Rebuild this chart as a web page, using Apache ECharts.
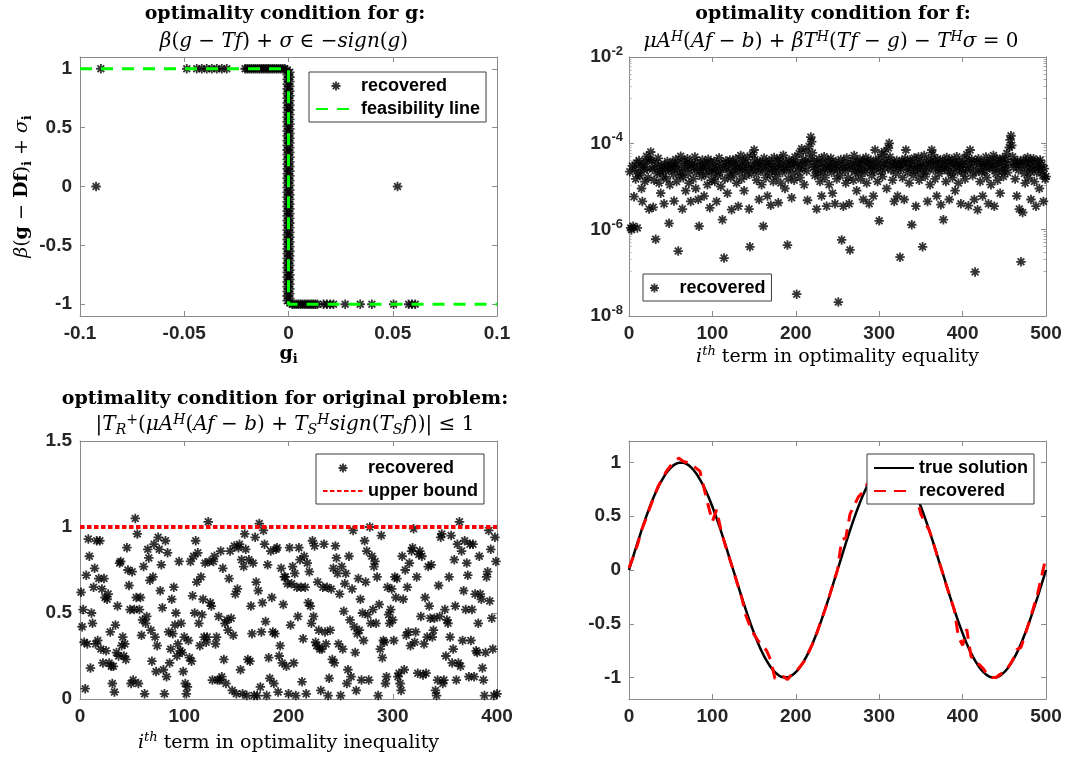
<!DOCTYPE html>
<html><head><meta charset="utf-8">
<script src="https://cdn.jsdelivr.net/npm/echarts@6/dist/echarts.min.js"></script>
<style>html,body{margin:0;padding:0;background:#fff}#c{width:1066px;height:761px}</style>
</head><body><div id="c"></div><script>
// ---------- Panel 1: optimality condition for g ----------
const upperG = [-0.090, -0.0488, -0.044, -0.0416, -0.0392, -0.0368, -0.0344, -0.0320, -0.0296, -0.0208, -0.0198, -0.0188, -0.0178, -0.0168, -0.0158, -0.0148, -0.0138, -0.0128, -0.0118, -0.0108, -0.0098, -0.0088, -0.0078, -0.0068, -0.0058, -0.0048, -0.0038, -0.0028, -0.0018];
const lowerG = [0.0018, 0.0028, 0.0038, 0.0048, 0.0058, 0.0068, 0.0078, 0.0088, 0.0098, 0.0108, 0.0118, 0.0128, 0.0138, 0.0168, 0.0184, 0.0200, 0.0216, 0.0272, 0.0344, 0.0400, 0.0504, 0.0576, 0.0592, 0.0608];
const zeroBandG = [-0.0006,0.0006,-0.0006,0.0006,-0.0006,0.0006,-0.0006,0.0006,-0.0006,0.0006,-0.0006,0.0006,-0.0006,0.0006,-0.0006,0.0006,-0.0006,0.0006,-0.0006,0.0006,
-0.0006,0.0006,-0.0006,0.0006,-0.0006,0.0006,-0.0006,0.0006,-0.0006,0.0006,-0.0006,0.0006,-0.0006,0.0006,-0.0006,0.0006,-0.0006,0.0006,-0.0006,0.0006,
-0.0006,0.0006,-0.0006,0.0006,-0.0006,0.0006,-0.0006,0.0006,-0.0006,0.0006,-0.0006,0.0006,-0.0006,0.0006,-0.0006,0.0006,-0.0006,0.0006,-0.0006,0.0006,
-0.0006,0.0006,-0.0006,0.0006,-0.0006,0.0006,-0.0006,0.0006,-0.0006,0.0006,-0.0006,0.0006,-0.0006,0.0006,-0.0006,0.0006,-0.0006,0.0006,-0.0006,0.0006,
-0.0006,0.0006,-0.0006,0.0006,-0.0006,0.0006,-0.0006,0.0006,-0.0006,0.0006,-0.0006,0.0006,-0.0006,0.0006,-0.0006,0.0006,-0.0006,0.0006,-0.0006,0.0006];
const zeroBandR = [0.99,0.97,0.95,0.93,0.91,0.89,0.87,0.85,0.83,0.81,0.79,0.77,0.75,0.73,0.71,0.69,0.67,0.65,0.63,0.61,
0.59,0.57,0.55,0.53,0.51,0.49,0.47,0.45,0.43,0.41,0.39,0.37,0.35,0.33,0.31,0.29,0.27,0.25,0.23,0.21,
0.19,0.17,0.15,0.13,0.11,0.09,0.07,0.05,0.03,0.01,-0.01,-0.03,-0.05,-0.07,-0.09,-0.11,-0.13,-0.15,-0.17,-0.19,
-0.21,-0.23,-0.25,-0.27,-0.29,-0.31,-0.33,-0.35,-0.37,-0.39,-0.41,-0.43,-0.45,-0.47,-0.49,-0.51,-0.53,-0.55,-0.57,-0.59,
-0.61,-0.63,-0.65,-0.67,-0.69,-0.71,-0.73,-0.75,-0.77,-0.79,-0.81,-0.83,-0.85,-0.87,-0.89,-0.91,-0.93,-0.95,-0.97,-0.99];
const outlierG = [-0.0923, 0.0523];
const outlierR = [0, 0];
const feasG = [-0.1, 0, 0, 0.1];
const feasR = [1, 1, -1, -1];

// ---------- Panel 2: optimality condition for f (i = 1..500) ----------
const eqResidual = [
2.2e-5,1.1e-6,1.0e-6,3e-5,1.2e-6,5.8e-6,2.5e-5,1.5e-5,3.5e-5,1.1e-6,2e-5,4e-5,1.8e-5,2.8e-5,9e-6,4.5e-6,3.2e-5,2.4e-5,1.3e-5,3.8e-5,5e-5,2.6e-5,1.6e-5,3e-6,4.2e-5,
6.3e-5,4e-5,2.5e-5,3.3e-6,1.4e-5,2.8e-5,6e-7,3.5e-5,2e-5,4.5e-5,1.2e-5,2.2e-5,7e-6,3e-5,2.6e-5,1.7e-5,4e-6,3.2e-5,2.3e-5,1.5e-5,3.8e-5,2.7e-5,1.4e-6,1.1e-5,3e-5,
2.4e-5,3.6e-5,1.9e-5,4.6e-6,2.9e-5,4.2e-5,1.3e-5,2.5e-5,3.2e-7,3.4e-5,1.8e-5,5e-5,2.2e-5,3e-6,1.6e-5,3.9e-5,2.7e-5,8e-6,3.1e-5,4.4e-5,2e-5,1.2e-5,3.5e-5,4.5e-6,2.6e-5,
3.3e-5,1.5e-5,2.8e-5,4.8e-5,9e-6,2.1e-5,3.7e-5,5e-6,1.2e-6,2.4e-5,3e-5,1.7e-5,4.1e-5,2.6e-5,6e-6,3.4e-5,1.9e-5,2.9e-5,1.1e-5,4.3e-5,2.3e-5,3.2e-6,3.6e-5,1.4e-5,2.7e-5,
2e-5,3.8e-5,1.3e-5,2.5e-5,4.5e-6,3.1e-5,1.8e-5,4.6e-5,2.2e-5,1e-5,3.4e-5,1.7e-6,2.6e-5,2.2e-7,1.5e-5,3.9e-5,2.8e-5,7e-6,3.3e-5,2.1e-5,4.1e-5,1.6e-5,2.9e-6,2.4e-5,3.6e-5,
1.9e-5,3e-5,4.4e-5,1.2e-5,2.6e-5,3.5e-6,3.3e-5,2.2e-5,5.2e-5,1.5e-5,2.8e-5,4e-5,8e-6,2.4e-5,3.6e-5,1.8e-5,4.8e-5,2.7e-5,3e-6,4e-7,3.2e-5,2e-5,5.5e-5,2.5e-5,7e-5,
4.2e-5,2.9e-5,1.4e-5,3.5e-5,2.1e-5,5e-6,3.8e-5,2.6e-5,1.1e-5,3.1e-5,1.2e-6,4.5e-5,2.3e-5,1.6e-5,3.4e-5,6e-6,2.8e-5,4e-5,1.9e-5,3.7e-6,3.3e-5,2.5e-5,1.3e-5,4.7e-5,2.2e-5,
3e-5,1.7e-5,3.9e-5,4.2e-6,2.6e-5,4.4e-5,1.2e-5,3.2e-5,2.1e-5,5.3e-5,2.8e-5,9e-6,3.6e-5,2.4e-5,4.4e-7,1.5e-5,4.1e-5,2.7e-5,3.3e-5,5.5e-6,2e-5,3.8e-5,1.4e-5,4.8e-5,2.9e-5,
3.2e-8,3.5e-5,2.2e-5,5.8e-5,1.6e-5,3.1e-5,7.5e-5,2.6e-5,4.2e-5,1.1e-5,3.7e-5,6.5e-5,2.3e-5,4.8e-6,3.3e-5,8.5e-5,4.5e-5,1.4e-4,1.1e-4,6e-5,2.8e-5,3.9e-5,1.8e-5,2.5e-5,3e-6,
3.4e-5,2e-5,4.4e-5,1.3e-5,2.7e-5,6e-6,3.6e-5,2.2e-5,4.9e-5,1.6e-5,3e-5,3.5e-6,2.5e-5,3.9e-5,1.1e-5,2.9e-5,4.5e-5,2.1e-5,7e-6,3.3e-5,2.6e-5,4e-6,3.8e-5,1.5e-5,2.4e-5,
2.1e-8,3.1e-5,1.8e-5,4.2e-5,5.8e-7,2.7e-5,3.5e-6,3.5e-5,2.3e-5,1.2e-5,4.6e-5,2.9e-5,1.6e-5,4e-6,3.4e-7,3.2e-5,2.5e-5,3.9e-5,1.4e-5,5.2e-5,2.2e-5,3e-5,8e-6,3.7e-5,2e-5,
2.7e-5,4.3e-5,1.5e-5,3.3e-5,2.4e-5,5e-6,3.9e-5,2.1e-5,4.7e-5,1.2e-5,2.9e-5,3.6e-5,4e-6,2.6e-5,4.1e-5,1.8e-5,3.2e-5,6e-6,2.3e-5,7e-5,3.8e-5,2.8e-5,1.3e-5,4.4e-5,1.6e-6,
3e-5,2.2e-5,5.5e-5,1.7e-5,3.5e-5,6.5e-5,2.6e-5,4.2e-5,9e-6,3.2e-5,7.8e-5,1e-4,4.8e-5,2.4e-5,3.7e-5,1.4e-5,2.9e-5,4.5e-6,3.4e-5,2e-5,4e-5,6e-6,2.7e-5,3.1e-5,2.3e-7,
2.5e-5,3.9e-5,1.6e-5,3.3e-5,5e-6,4.4e-5,7e-5,2.8e-5,2.1e-5,3.6e-5,1.2e-5,4.1e-5,2.6e-5,1.3e-6,3.1e-5,1.8e-5,4.6e-5,2.3e-5,3.5e-6,3.4e-5,2.7e-5,4.8e-5,1.4e-5,3e-5,2e-5,
3.8e-5,4e-7,2.6e-5,5.2e-5,1.7e-5,3.3e-5,2.2e-5,4.5e-6,4.2e-5,2.9e-5,1.1e-5,3.6e-5,7e-5,5.5e-5,2.4e-5,3.9e-5,1.5e-5,3.1e-5,6e-6,4.4e-5,2.7e-5,2e-5,3.5e-5,3.8e-6,2.5e-5,
4.1e-5,1.7e-6,2.8e-5,3.4e-5,1.3e-5,4.7e-5,2.3e-5,3e-5,5e-6,3.7e-5,2e-5,4.3e-5,1.6e-5,2.6e-5,3.5e-5,8e-6,3.2e-5,4.9e-5,2.2e-5,1.2e-5,3.8e-5,2.9e-5,4e-6,2.5e-5,3.3e-5,
2e-5,4.5e-5,1.5e-5,3.1e-5,5.5e-5,2.4e-5,3.6e-6,3.9e-5,7e-5,2.7e-5,4.2e-5,1.8e-5,3.3e-5,5e-6,1.05e-7,2.2e-5,3.8e-5,2.9e-6,4.4e-5,2.6e-5,1.3e-5,3.4e-5,2.1e-5,6e-6,3e-5,
3.7e-5,2.3e-5,4.8e-5,1.6e-5,3.2e-5,4e-6,2.8e-5,4.1e-5,1.1e-5,3.5e-5,2.5e-5,5.2e-5,3.5e-6,3e-5,2e-5,4.4e-5,1.4e-5,3.6e-5,2.7e-5,7e-6,3.9e-5,2.2e-5,4.6e-5,1.7e-5,3.1e-5,
2.6e-5,4.3e-5,5.8e-5,2.1e-5,3.4e-5,8e-5,1.2e-4,1.5e-4,9e-5,4.9e-5,2.8e-5,3.7e-5,1.5e-5,3.2e-5,6e-6,4e-5,2.4e-5,3e-6,3.5e-5,1.8e-7,2.9e-5,2.5e-6,4.2e-5,2e-5,1.2e-5,
3.6e-5,2.7e-5,4.7e-5,1.6e-5,3.3e-5,2.2e-5,5e-6,3.9e-5,2.5e-5,4.4e-5,1.3e-5,3e-5,3.5e-6,2.1e-5,3.8e-5,2.8e-5,9e-6,4.1e-5,2.4e-5,3.2e-5,1.8e-5,4.5e-6,2.6e-5,1.5e-5,1.7e-5];

// ---------- Panel 3: optimality condition for original problem (i = 1..400) ----------
const ineqResidual = [
0.62,0.42,0.52,0.33,0.06,0.72,0.32,0.93,0.83,0.18,0.50,0.44,0.65,0.76,0.32,0.92,0.34,0.70,0.92,0.29,0.64,0.21,0.70,0.59,0.28,
0.58,0.61,0.21,0.39,0.19,0.09,0.19,0.04,0.43,0.27,0.54,0.25,0.79,0.80,0.31,0.36,0.25,0.32,0.23,0.88,0.75,0.66,0.52,0.09,0.74,
0.11,0.52,1.05,0.59,0.96,0.09,0.52,0.59,0.37,0.46,0.77,0.03,0.44,0.48,0.87,0.82,0.69,0.40,0.22,0.71,0.90,0.36,0.16,0.31,0.94,
0.87,0.63,0.78,0.53,0.17,0.03,0.92,0.13,0.85,0.39,0.21,0.29,0.58,0.38,0.65,0.43,0.50,0.25,0.32,0.80,0.28,0.44,0.27,0.16,0.36,
0.09,0.03,0.07,0.34,0.24,0.80,0.22,0.60,0.83,0.50,0.92,0.68,0.85,0.44,0.31,0.71,0.49,0.58,0.36,0.79,0.33,0.36,1.03,0.80,0.56,
0.54,0.11,0.80,0.83,0.32,0.36,0.11,0.48,0.11,0.86,0.13,0.76,0.23,0.44,0.09,0.46,0.40,0.70,0.86,0.47,0.05,0.37,0.89,0.61,0.03,
0.64,0.88,0.90,0.17,0.81,0.03,0.77,0.96,0.87,0.02,0.23,0.81,0.22,0.54,0.38,0.79,0.02,0.94,0.68,0.02,0.63,1.02,0.07,0.39,0.56,
0.98,0.90,0.45,0.02,0.78,0.24,0.12,0.86,0.59,0.39,0.09,0.38,0.87,0.88,0.04,0.25,0.31,0.76,0.21,0.55,0.71,0.71,0.19,0.67,0.03,
0.88,0.43,0.67,0.77,0.21,0.73,0.02,0.65,0.48,0.88,0.81,0.65,0.10,0.35,0.83,0.65,0.03,0.79,0.56,0.74,0.54,0.44,0.92,0.48,0.89,
0.33,0.31,0.68,0.40,0.29,0.05,0.29,0.65,0.90,0.39,0.32,0.65,0.02,0.12,0.40,0.64,0.23,0.76,0.21,0.89,0.82,0.73,0.32,0.61,0.02,
0.77,0.29,0.51,0.67,0.73,0.09,0.17,0.83,0.46,0.13,0.64,0.98,0.42,0.27,0.05,0.38,0.70,0.40,0.58,0.11,0.50,0.34,0.92,0.68,0.86,
0.49,0.11,1.00,0.44,0.83,0.52,0.77,0.80,0.44,0.71,0.02,0.55,0.29,0.95,0.24,0.34,0.33,0.09,0.13,0.65,0.49,0.44,0.52,0.64,0.46,
0.34,0.71,0.59,0.70,0.13,0.15,0.09,0.05,0.83,0.58,0.17,0.75,0.37,0.65,0.39,0.79,0.31,0.86,0.88,0.99,0.33,0.39,0.71,0.15,0.84,
0.86,0.48,0.83,0.14,0.32,0.59,0.15,0.36,0.77,0.54,0.47,0.78,0.36,0.40,0.47,0.05,0.02,0.11,0.66,0.48,0.94,0.96,0.09,0.11,0.52,
0.25,0.46,0.44,0.71,0.36,0.95,0.21,0.29,0.81,0.54,0.11,0.90,0.21,1.03,0.19,0.86,0.34,0.63,0.92,0.52,0.79,0.72,0.13,0.90,0.34,
0.52,0.90,0.13,0.61,0.28,0.27,0.44,0.83,0.61,0.58,0.18,0.11,0.02,0.27,0.71,0.74,0.98,0.57,0.87,0.47,0.29,0.02,0.94,0.80,0.03];
const boundX = [0, 400];
const boundY = [1, 1];

// ---------- Panel 4: solutions (sampled every 5 indices, 0..500) ----------
const solStep = 5;
const trueSolution = [0,0.125,0.249,0.368,0.482,0.588,0.685,0.771,0.844,0.905,0.951,0.982,0.998,0.998,0.982,0.951,0.905,0.844,0.771,0.685,0.588,0.482,0.368,0.249,0.125,0,-0.125,-0.249,-0.368,-0.482,-0.588,-0.685,-0.771,-0.844,-0.905,-0.951,-0.982,-0.998,-0.998,-0.982,-0.951,-0.905,-0.844,-0.771,-0.685,-0.588,-0.482,-0.368,-0.249,-0.125,0,
0.125,0.249,0.368,0.482,0.588,0.685,0.771,0.844,0.905,0.951,0.982,0.998,0.998,0.982,0.951,0.905,0.844,0.771,0.685,0.588,0.482,0.368,0.249,0.125,0,-0.125,-0.249,-0.368,-0.482,-0.588,-0.685,-0.771,-0.844,-0.905,-0.951,-0.982,-0.998,-0.998,-0.982,-0.951,-0.905,-0.844,-0.771,-0.685,-0.588,-0.482,-0.368,-0.249,-0.125,0];
const recoveredSolution = [0.02,0.12,0.23,0.37,0.47,0.58,0.68,0.78,0.85,0.92,0.97,1.02,1.04,1.01,1.00,0.98,0.95,0.92,0.76,0.60,0.45,0.56,0.38,0.24,0.12,0.0,-0.13,-0.25,-0.42,-0.52,-0.60,-0.66,-0.70,-0.75,-0.84,-1.01,-1.00,-0.99,-1.02,-0.97,-0.95,-0.90,-0.85,-0.77,-0.69,-0.59,-0.48,-0.37,-0.25,-0.12,0.0,
0.28,0.30,0.52,0.60,0.68,0.72,0.79,0.85,0.90,0.95,0.98,1.00,1.02,1.06,0.98,0.95,0.87,0.78,0.68,0.52,0.44,0.37,0.25,0.12,0.0,-0.13,-0.25,-0.37,-0.62,-0.70,-0.55,-0.80,-0.86,-0.88,-0.92,-0.98,-1.0,-1.0,-0.97,-0.95,-0.90,-0.84,-0.74,-0.72,-0.60,-0.48,-0.35,-0.22,-0.05,0.12];

// ---------- styling ----------
const SANS = "'Liberation Sans', Arial, Helvetica, sans-serif";
const SERIF = "'DejaVu Serif', serif";
const AXC = '#8a8a8a';
const STAR = 'path://M5,0L5,10M0,5L10,5M1.46,1.46L8.54,8.54M1.46,8.54L8.54,1.46';
const STAR_SIZE = 9.5;
const starStyle = {color: '#000', borderColor: '#000', borderWidth: 1.8};
const noMarker = {color: 'rgba(0,0,0,0)', borderColor: 'rgba(0,0,0,0)', borderWidth: 0};

const MATH = {
  r: {fontFamily: SERIF, fontWeight: 'normal', fontSize: 19, lineHeight: 24, color: '#000'},
  i: {fontFamily: SERIF, fontWeight: 'normal', fontStyle: 'italic', fontSize: 19, lineHeight: 24, color: '#000'},
  b: {fontFamily: SERIF, fontWeight: 'bold', fontSize: 19, lineHeight: 24, color: '#000'},
  ip: {fontFamily: SERIF, fontWeight: 'normal', fontStyle: 'italic', fontSize: 13, lineHeight: 14, verticalAlign: 'top', color: '#000'},
  rp: {fontFamily: SERIF, fontWeight: 'normal', fontSize: 13, lineHeight: 14, verticalAlign: 'top', color: '#000'},
  ib: {fontFamily: SERIF, fontWeight: 'normal', fontStyle: 'italic', fontSize: 13, lineHeight: 14, verticalAlign: 'bottom', color: '#000'},
  bb: {fontFamily: SERIF, fontWeight: 'bold', fontSize: 13, lineHeight: 14, verticalAlign: 'bottom', color: '#000'}
};
// slightly larger math for the title formulas
const TMATH = {
  r: Object.assign({}, MATH.r, {fontSize: 20}),
  i: Object.assign({}, MATH.i, {fontSize: 20}),
  ip: Object.assign({}, MATH.ip, {fontSize: 14}),
  rp: Object.assign({}, MATH.rp, {fontSize: 14}),
  ib: Object.assign({}, MATH.ib, {fontSize: 14})
};

function axis(extra, mirror) {
  const a = {
    axisLine: {show: true, onZero: false, lineStyle: {color: AXC, width: 1}},
    axisTick: {show: true, inside: true, length: 5, lineStyle: {color: AXC, width: 1}},
    splitLine: {show: false},
    axisLabel: mirror ? {show: false} : {color: '#262626', fontFamily: SANS, fontWeight: 'bold', fontSize: 19, margin: 8},
    nameTextStyle: {fontFamily: SERIF, fontWeight: 'normal', fontSize: 19, color: '#000', rich: MATH}
  };
  return Object.assign(a, extra);
}
function legendCfg(left, top, items) {
  return {
    left: left, top: top, orient: 'vertical', data: items,
    itemWidth: 40, itemHeight: 9, itemGap: 5, padding: [5, 6, 4, 6],
    borderColor: '#3c3c3c', borderWidth: 1, backgroundColor: '#fff', selectedMode: false,
    formatter: n => n.trim(),
    textStyle: {fontFamily: SANS, fontWeight: 'bold', fontSize: 18, color: '#000'},
    itemStyle: {borderWidth: 1.8}
  };
}
const lineItem = n => ({name: n, itemStyle: noMarker});
const titleBold = {fontFamily: SERIF, fontWeight: 'bold', fontSize: 19, lineHeight: 24, color: '#000'};
function title(text, x, top, isMath) {
  return {text: text, left: x, top: top, textAlign: 'center', padding: 0,
    textStyle: isMath ? {fontFamily: SERIF, fontWeight: 'normal', fontSize: 20, lineHeight: 24, color: '#000', rich: TMATH} : titleBold};
}

const p1Points = [];
upperG.forEach(g => p1Points.push([g, 1]));
lowerG.forEach(g => p1Points.push([g, -1]));
zeroBandG.forEach((g, k) => p1Points.push([g, zeroBandR[k]]));
outlierG.forEach((g, k) => p1Points.push([g, outlierR[k]]));

const logRich = {
  m: {fontFamily: SANS, fontWeight: 'bold', fontSize: 19, lineHeight: 24, color: '#262626'},
  e: {fontFamily: SANS, fontWeight: 'bold', fontSize: 13, lineHeight: 14, verticalAlign: 'top', color: '#262626'}
};

const option = {
  animation: false,
  backgroundColor: '#fff',
  title: [
    title('optimality condition for g:', 285, 2, false),
    title('{i|β}{r|(}{i|g}{r| − }{i|Tf}{r|) + }{i|σ}{r| ∈ −}{i|sign}{r|(}{i|g}{r|)}', 284, 30, true),
    title('optimality condition for f:', 833, 2, false),
    title('{i|μA}{ip|H}{r|(}{i|Af}{r| − }{i|b}{r|) + }{i|βT}{ip|H}{r|(}{i|Tf}{r| − }{i|g}{r|) − }{i|T}{ip|H}{i|σ}{r| = 0}', 831, 30, true),
    title('optimality condition for original problem:', 285, 387, false),
    title('{r||}{i|T}{ib|R}{rp|+}{r|(}{i|μA}{ip|H}{r|(}{i|Af}{r| − }{i|b}{r|) + }{i|T}{ib|S}{ip|H}{i|sign}{r|(}{i|T}{ib|S}{i|f}{r|))| ≤ 1}', 285, 413, true)
  ],
  legend: [
    legendCfg(309, 72, ['recovered', lineItem('feasibility line')]),
    legendCfg(643, 274, ['recovered ']),
    legendCfg(316, 454, ['recovered  ', lineItem('upper bound')]),
    legendCfg(867, 454, [lineItem('true solution'), lineItem('recovered   ')])
  ],
  grid: [
    {left: 80, top: 57, width: 417, height: 259, outerBoundsMode: 'none'},
    {left: 629, top: 57, width: 417, height: 259, outerBoundsMode: 'none'},
    {left: 80, top: 441, width: 417, height: 258, outerBoundsMode: 'none'},
    {left: 629, top: 441, width: 417, height: 258, outerBoundsMode: 'none'}
  ],
  xAxis: [
    axis({gridIndex: 0, type: 'value', position: 'bottom', min: -0.1, max: 0.1, interval: 0.05,
      name: '{b|g}{bb|i}', nameLocation: 'middle', nameGap: 26}),
    axis({gridIndex: 0, type: 'value', position: 'top', min: -0.1, max: 0.1, interval: 0.05}, true),
    axis({gridIndex: 1, type: 'value', position: 'bottom', min: 0, max: 500, interval: 100,
      name: '{i|i}{ip|th}{r| term in optimality equality}', nameLocation: 'middle', nameGap: 29}),
    axis({gridIndex: 1, type: 'value', position: 'top', min: 0, max: 500, interval: 100}, true),
    axis({gridIndex: 2, type: 'value', position: 'bottom', min: 0, max: 400, interval: 100,
      name: '{i|i}{ip|th}{r| term in optimality inequality}', nameLocation: 'middle', nameGap: 32}),
    axis({gridIndex: 2, type: 'value', position: 'top', min: 0, max: 400, interval: 100}, true),
    axis({gridIndex: 3, type: 'value', position: 'bottom', min: 0, max: 500, interval: 100}),
    axis({gridIndex: 3, type: 'value', position: 'top', min: 0, max: 500, interval: 100}, true)
  ],
  yAxis: [
    axis({gridIndex: 0, type: 'value', position: 'left', min: -1.1, max: 1.1,
      name: '{i|β}{r|(}{b|g}{r| − }{b|Df}{r|)}{bb|i}{r| + }{i|σ}{bb|i}', nameLocation: 'middle', nameGap: 46, nameRotate: 90}),
    axis({gridIndex: 0, type: 'value', position: 'right', min: -1.1, max: 1.1}, true),
    axis({gridIndex: 1, type: 'log', logBase: 10, position: 'left', min: 1e-8, max: 1e-2, interval: 2,
      minorTick: {show: true, splitNumber: 10, length: 2.5, lineStyle: {color: '#aaa'}}}),
    axis({gridIndex: 1, type: 'log', logBase: 10, position: 'right', min: 1e-8, max: 1e-2, interval: 2,
      minorTick: {show: true, splitNumber: 10, length: 2.5, lineStyle: {color: '#aaa'}}}, true),
    axis({gridIndex: 2, type: 'value', position: 'left', min: 0, max: 1.5, interval: 0.5}),
    axis({gridIndex: 2, type: 'value', position: 'right', min: 0, max: 1.5, interval: 0.5}, true),
    axis({gridIndex: 3, type: 'value', position: 'left', min: -1.2, max: 1.2}),
    axis({gridIndex: 3, type: 'value', position: 'right', min: -1.2, max: 1.2}, true)
  ],
  series: [
    {name: 'recovered', type: 'scatter', xAxisIndex: 0, yAxisIndex: 0, data: p1Points,
      symbol: STAR, symbolSize: STAR_SIZE, itemStyle: starStyle, silent: true},
    {name: 'feasibility line', type: 'line', xAxisIndex: 0, yAxisIndex: 0,
      data: feasG.map((g, k) => [g, feasR[k]]), symbol: 'none', silent: true, itemStyle: noMarker,
      lineStyle: {color: '#00ff00', width: 3, type: [12, 9]}},
    {name: 'recovered ', type: 'scatter', xAxisIndex: 2, yAxisIndex: 2,
      data: eqResidual.map((v, k) => [k + 1, v]), symbol: STAR, symbolSize: STAR_SIZE, itemStyle: starStyle, silent: true},
    {name: 'recovered  ', type: 'scatter', xAxisIndex: 4, yAxisIndex: 4,
      data: ineqResidual.map((v, k) => [k + 1, v]), symbol: STAR, symbolSize: STAR_SIZE, itemStyle: starStyle, silent: true},
    {name: 'upper bound', type: 'line', xAxisIndex: 4, yAxisIndex: 4,
      data: boundX.map((x, k) => [x, boundY[k]]), symbol: 'none', silent: true, itemStyle: noMarker,
      lineStyle: {color: '#ff0000', width: 4, type: [4.5, 2.5]}},
    {name: 'true solution', type: 'line', xAxisIndex: 6, yAxisIndex: 6,
      data: trueSolution.map((v, k) => [k * solStep, v]), symbol: 'none', silent: true, smooth: 0.3, itemStyle: noMarker,
      lineStyle: {color: '#000', width: 2.5}},
    {name: 'recovered   ', type: 'line', xAxisIndex: 6, yAxisIndex: 6,
      data: recoveredSolution.map((v, k) => [k * solStep, v]), symbol: 'none', silent: true, itemStyle: noMarker,
      lineStyle: {color: '#ff0000', width: 3, type: [12, 8]}}
  ]
};
// log axis labels 10^n
option.yAxis[2].axisLabel = {color: '#262626', fontFamily: SANS, fontWeight: 'bold', fontSize: 19, margin: 6,
  formatter: v => '{m|10}{e|' + Math.round(Math.log10(v)) + '}', rich: logRich};
option.yAxis[0].axisLabel.showMinLabel = false; option.yAxis[0].axisLabel.showMaxLabel = false;
option.yAxis[6].axisLabel.showMinLabel = false; option.yAxis[6].axisLabel.showMaxLabel = false;

const chart = echarts.init(document.getElementById('c'), null, {renderer: 'canvas'});
chart.setOption(option);
</script></body></html>
